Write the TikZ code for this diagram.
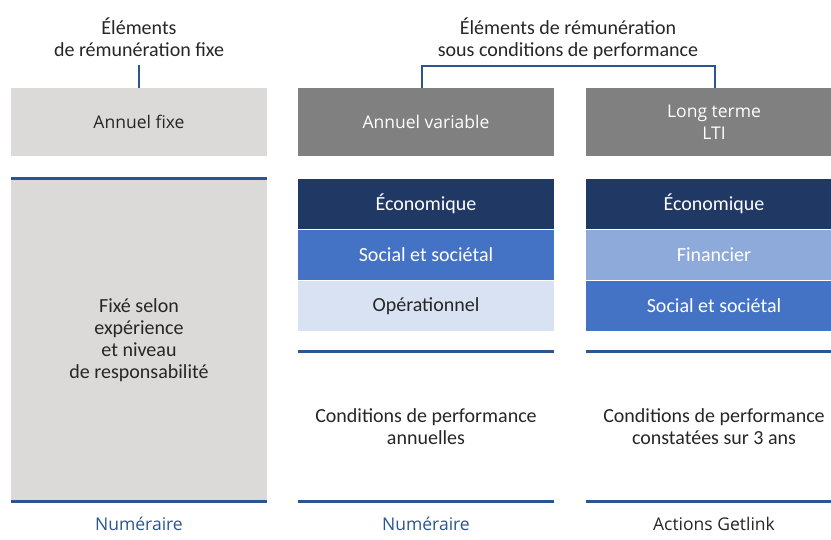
\documentclass[tikz,border=0pt]{standalone}
\usepackage{fontspec}
\setmainfont{Carlito}
\newfontfamily\widefont{Open Sans}
\usepackage{tikz}
\usetikzlibrary{positioning}

\definecolor{fixgray}{HTML}{DBDAD9}
\definecolor{midgray}{HTML}{808080}
\definecolor{navy}{HTML}{1F3864}
\definecolor{midblue}{HTML}{4472C4}
\definecolor{paleblue}{HTML}{D9E2F3}
\definecolor{finblue}{HTML}{8EAADB}
\definecolor{lineblue}{HTML}{2B5592}
\definecolor{txt}{HTML}{262626}

\begin{document}
\begin{tikzpicture}[x=1pt, y=-1pt,
    head/.style={align=center, text=txt, font=\fontsize{20}{22}\selectfont, inner sep=0pt},
    topbox/.style={rectangle, minimum width=256, minimum height=68, inner sep=0pt, align=center, font=\widefont\fontsize{17.5}{22}\selectfont},
    critbox/.style={rectangle, minimum width=256, minimum height=50.5, inner sep=0pt, align=center, text=white, font=\fontsize{20}{22}\selectfont},
    condbox/.style={rectangle, minimum width=256, minimum height=149, inner sep=0pt, align=center, text=txt, font=\fontsize{20}{22}\selectfont},
    paybox/.style={inner sep=0pt, font=\widefont\fontsize{17.5}{21}\selectfont},
    bline/.style={lineblue, line width=3pt},
    bracket/.style={lineblue, line width=2pt}
]
\useasboundingbox (0,0) rectangle (831,539);
\clip (0,0) rectangle (831,539);

% Headers
\node[head] (hfix) at (139,37) {Éléments\\de rémunération fixe};
\node[head] (hperf) at (568,39) {Éléments de rémunération\\sous conditions de performance};

% Top row
\node[topbox, fill=fixgray, text=txt] (fixe) at (139,122) {Annuel fixe};
\node[topbox, fill=midgray, text=white] (var) at (426,122) {Annuel variable};
\node[topbox, fill=midgray, text=white] (lti) at (714,122) {Long terme\\LTI};

% Fixed column
\node[condbox, fill=fixgray, minimum height=322] (fixbig) at (139,340) {Fixé selon\\expérience\\et niveau\\de responsabilité};

% Annual variable criteria
\node[critbox, fill=navy] (eco1) at (426,204) {Économique};
\node[critbox, fill=midblue, below=0pt of eco1] (soc1) {Social et sociétal};
\node[critbox, fill=paleblue, text=txt, below=0pt of soc1] (ope) {Opérationnel};

% Long term criteria
\node[critbox, fill=navy] (eco2) at (714,204) {Économique};
\node[critbox, fill=finblue, below=0pt of eco2] (fin) {Financier};
\node[critbox, fill=midblue, below=0pt of fin] (soc2) {Social et sociétal};

% Conditions
\node[condbox] (cond1) at (426,426.5) {Conditions de performance\\annuelles};
\node[condbox] (cond2) at (714,426.5) {Conditions de performance\\constatées sur 3 ans};

% Payment
\node[paybox, text=lineblue] (pay0) at (139,524) {Numéraire};
\node[paybox, text=lineblue] (pay1) at (426,524) {Numéraire};
\node[paybox, text=txt] (pay2) at (714,524) {Actions Getlink};

% Blue rules
\draw[bline] (fixbig.north west) -- (fixbig.north east);
\draw[bline] (fixbig.south west) -- (fixbig.south east);
\draw[bline] (cond1.north west) -- (cond1.north east);
\draw[bline] (cond1.south west) -- (cond1.south east);
\draw[bline] (cond2.north west) -- (cond2.north east);
\draw[bline] (cond2.south west) -- (cond2.south east);

% Connectors
\draw[bline, line width=2.5pt] (fixe.north) -- ++(0,-23);
\draw[bracket] ([xshift=-4pt]var.north) -- ++(0,-22) -| ([xshift=1pt]lti.north);

\end{tikzpicture}
\end{document}
